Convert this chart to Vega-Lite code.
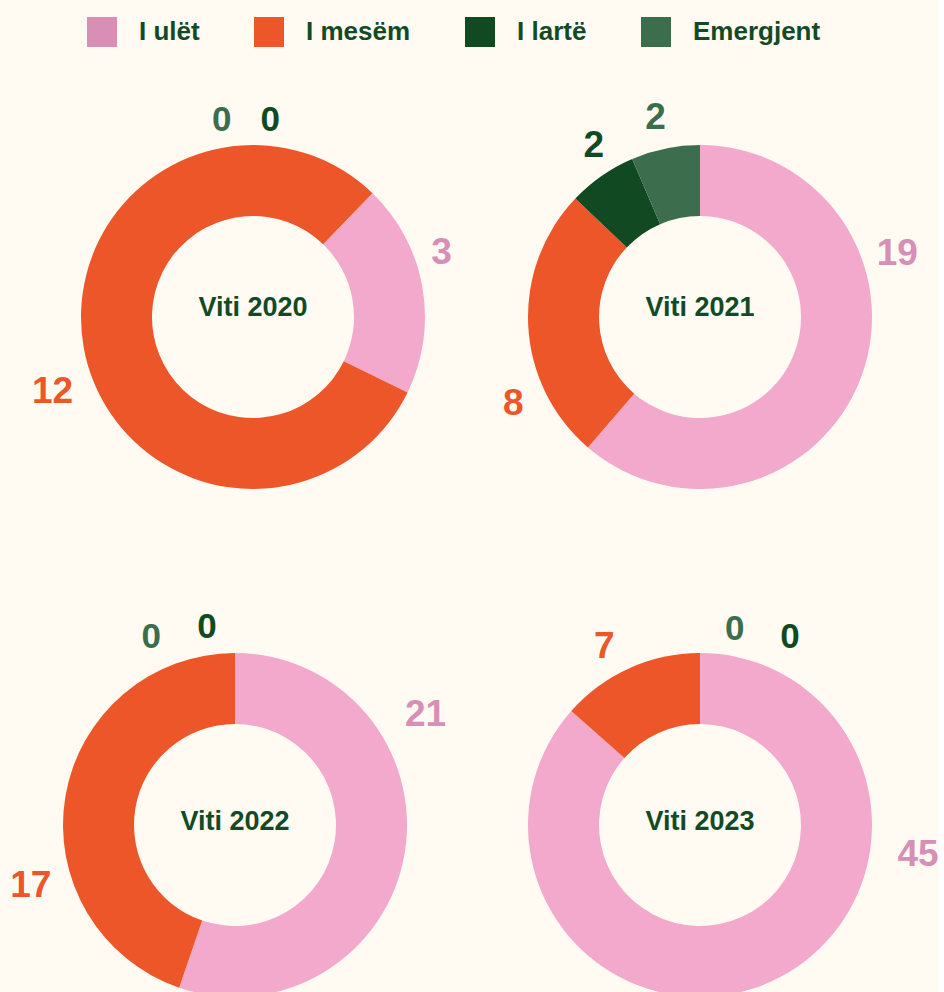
{
  "$schema": "https://vega.github.io/schema/vega-lite/v6.json",
  "background": "#FFFBF3",
  "padding": 0,
  "data": {"values": [
    {"panel": "Viti 2020", "cat": "I ulët", "value": 3},
    {"panel": "Viti 2020", "cat": "I mesëm", "value": 12},
    {"panel": "Viti 2020", "cat": "I lartë", "value": 0},
    {"panel": "Viti 2020", "cat": "Emergjent", "value": 0},
    {"panel": "Viti 2021", "cat": "I ulët", "value": 19},
    {"panel": "Viti 2021", "cat": "I mesëm", "value": 8},
    {"panel": "Viti 2021", "cat": "I lartë", "value": 2},
    {"panel": "Viti 2021", "cat": "Emergjent", "value": 2},
    {"panel": "Viti 2022", "cat": "I ulët", "value": 21},
    {"panel": "Viti 2022", "cat": "I mesëm", "value": 17},
    {"panel": "Viti 2022", "cat": "I lartë", "value": 0},
    {"panel": "Viti 2022", "cat": "Emergjent", "value": 0},
    {"panel": "Viti 2023", "cat": "I ulët", "value": 45},
    {"panel": "Viti 2023", "cat": "I mesëm", "value": 7},
    {"panel": "Viti 2023", "cat": "I lartë", "value": 0},
    {"panel": "Viti 2023", "cat": "Emergjent", "value": 0}
  ]},
  "columns": 2,
  "spacing": 0,
  "bounds": "flush",
  "resolve": {"scale": {"theta": "independent"}},
  "concat": [
    {
      "width": 506, "height": 634,
      "transform": [{"filter": "datum.panel === 'Viti 2020'"}],
      "resolve": {"scale": {"theta": "independent"}},
      "layer": [
        {"mark": {"type": "arc", "outerRadius": 172, "innerRadius": 101},
         "encoding": {
           "theta": {"field": "value", "type": "quantitative", "stack": true, "scale": {"range": [0.768, 7.051]}},
           "order": {"field": "cat", "type": "ordinal", "sort": "descending"},
           "fill": {"field": "cat", "type": "nominal", "sort": "descending", "scale": {"range": ["#F2A9CB", "#EC5629", "#114A22", "#3C6E4E"]}, "legend": null}}},
        {"mark": {"type": "text", "radius": 199, "fontSize": 37, "fontWeight": "bold"},
         "encoding": {
           "theta": {"field": "value", "type": "quantitative", "stack": true, "scale": {"range": [0.616, 6.899]}},
           "order": {"field": "cat", "type": "ordinal", "sort": "descending"},
           "color": {"field": "cat", "type": "nominal", "sort": "descending", "title": null},
           "text": {"condition": {"test": "datum.cat === 'I ulët'", "field": "value", "type": "quantitative"}, "value": ""}}},
        {"mark": {"type": "text", "radius": 214, "fontSize": 37, "fontWeight": "bold"},
         "encoding": {
           "theta": {"field": "value", "type": "quantitative", "stack": true, "scale": {"range": [0.585, 6.868]}},
           "order": {"field": "cat", "type": "ordinal", "sort": "descending"},
           "color": {"field": "cat", "type": "nominal", "sort": "descending", "title": null},
           "text": {"condition": {"test": "datum.cat === 'I mesëm'", "field": "value", "type": "quantitative"}, "value": ""}}},
        {"mark": {"type": "text", "radius": 198, "fontSize": 35, "fontWeight": "bold"},
         "encoding": {
           "theta": {"field": "value", "type": "quantitative", "stack": true, "scale": {"range": [0.087, 6.370]}},
           "order": {"field": "cat", "type": "ordinal", "sort": "descending"},
           "color": {"field": "cat", "type": "nominal", "sort": "descending", "title": null},
           "text": {"condition": {"test": "datum.cat === 'I lartë'", "field": "value", "type": "quantitative"}, "value": ""}}},
        {"mark": {"type": "text", "radius": 199, "fontSize": 35, "fontWeight": "bold"},
         "encoding": {
           "theta": {"field": "value", "type": "quantitative", "stack": true, "scale": {"range": [-0.157, 6.126]}},
           "order": {"field": "cat", "type": "ordinal", "sort": "descending"},
           "color": {"field": "cat", "type": "nominal", "sort": "descending", "title": null},
           "text": {"condition": {"test": "datum.cat === 'Emergjent'", "field": "value", "type": "quantitative"}, "value": ""}}},
        {"transform": [{"aggregate": [{"op": "sum", "field": "value", "as": "total"}], "groupby": ["panel"]}],
         "mark": {"type": "text", "fontSize": 27, "fontWeight": "bold", "color": "#134A26", "dy": -9},
         "encoding": {"text": {"field": "panel", "type": "nominal"}}}
      ]
    },
    {
      "width": 388, "height": 634,
      "transform": [{"filter": "datum.panel === 'Viti 2021'"}],
      "resolve": {"scale": {"theta": "independent"}},
      "layer": [
        {"mark": {"type": "arc", "outerRadius": 172, "innerRadius": 101},
         "encoding": {
           "theta": {"field": "value", "type": "quantitative", "stack": true},
           "order": {"field": "cat", "type": "ordinal", "sort": "descending"},
           "fill": {"field": "cat", "type": "nominal", "sort": "descending", "scale": {"range": ["#F2A9CB", "#EC5629", "#114A22", "#3C6E4E"]}, "legend": null}}},
        {"mark": {"type": "text", "radius": 207, "fontSize": 37, "fontWeight": "bold"},
         "encoding": {
           "theta": {"field": "value", "type": "quantitative", "stack": true, "scale": {"range": [-0.663, 5.620]}},
           "order": {"field": "cat", "type": "ordinal", "sort": "descending"},
           "color": {"field": "cat", "type": "nominal", "sort": "descending", "title": null},
           "text": {"condition": {"test": "datum.cat === 'I ulët'", "field": "value", "type": "quantitative"}, "value": ""}}},
        {"mark": {"type": "text", "radius": 206, "fontSize": 37, "fontWeight": "bold"},
         "encoding": {
           "theta": {"field": "value", "type": "quantitative", "stack": true, "scale": {"range": [-0.384, 5.899]}},
           "order": {"field": "cat", "type": "ordinal", "sort": "descending"},
           "color": {"field": "cat", "type": "nominal", "sort": "descending", "title": null},
           "text": {"condition": {"test": "datum.cat === 'I mesëm'", "field": "value", "type": "quantitative"}, "value": ""}}},
        {"mark": {"type": "text", "radius": 201, "fontSize": 37, "fontWeight": "bold"},
         "encoding": {
           "theta": {"field": "value", "type": "quantitative", "stack": true, "scale": {"range": [0.052, 6.335]}},
           "order": {"field": "cat", "type": "ordinal", "sort": "descending"},
           "color": {"field": "cat", "type": "nominal", "sort": "descending", "title": null},
           "text": {"condition": {"test": "datum.cat === 'I lartë'", "field": "value", "type": "quantitative"}, "value": ""}}},
        {"mark": {"type": "text", "radius": 204, "fontSize": 37, "fontWeight": "bold"},
         "encoding": {
           "theta": {"field": "value", "type": "quantitative", "stack": true, "scale": {"range": [-0.017, 6.266]}},
           "order": {"field": "cat", "type": "ordinal", "sort": "descending"},
           "color": {"field": "cat", "type": "nominal", "sort": "descending", "title": null},
           "text": {"condition": {"test": "datum.cat === 'Emergjent'", "field": "value", "type": "quantitative"}, "value": ""}}},
        {"transform": [{"aggregate": [{"op": "sum", "field": "value", "as": "total"}], "groupby": ["panel"]}],
         "mark": {"type": "text", "fontSize": 27, "fontWeight": "bold", "color": "#134A26", "dy": -9},
         "encoding": {"text": {"field": "panel", "type": "nominal"}}}
      ]
    },
    {
      "width": 470, "height": 382,
      "transform": [{"filter": "datum.panel === 'Viti 2022'"}],
      "resolve": {"scale": {"theta": "independent"}},
      "layer": [
        {"mark": {"type": "arc", "outerRadius": 172, "innerRadius": 101},
         "encoding": {
           "theta": {"field": "value", "type": "quantitative", "stack": true},
           "order": {"field": "cat", "type": "ordinal", "sort": "descending"},
           "fill": {"field": "cat", "type": "nominal", "sort": "descending", "scale": {"range": ["#F2A9CB", "#EC5629", "#114A22", "#3C6E4E"]}, "legend": null}}},
        {"mark": {"type": "text", "radius": 220, "fontSize": 37, "fontWeight": "bold"},
         "encoding": {
           "theta": {"field": "value", "type": "quantitative", "stack": true, "scale": {"range": [-0.689, 5.594]}},
           "order": {"field": "cat", "type": "ordinal", "sort": "descending"},
           "color": {"field": "cat", "type": "nominal", "sort": "descending", "title": null},
           "text": {"condition": {"test": "datum.cat === 'I ulët'", "field": "value", "type": "quantitative"}, "value": ""}}},
        {"mark": {"type": "text", "radius": 213, "fontSize": 37, "fontWeight": "bold"},
         "encoding": {
           "theta": {"field": "value", "type": "quantitative", "stack": true, "scale": {"range": [-0.454, 5.829]}},
           "order": {"field": "cat", "type": "ordinal", "sort": "descending"},
           "color": {"field": "cat", "type": "nominal", "sort": "descending", "title": null},
           "text": {"condition": {"test": "datum.cat === 'I mesëm'", "field": "value", "type": "quantitative"}, "value": ""}}},
        {"mark": {"type": "text", "radius": 200, "fontSize": 35, "fontWeight": "bold"},
         "encoding": {
           "theta": {"field": "value", "type": "quantitative", "stack": true, "scale": {"range": [-0.140, 6.143]}},
           "order": {"field": "cat", "type": "ordinal", "sort": "descending"},
           "color": {"field": "cat", "type": "nominal", "sort": "descending", "title": null},
           "text": {"condition": {"test": "datum.cat === 'I lartë'", "field": "value", "type": "quantitative"}, "value": ""}}},
        {"mark": {"type": "text", "radius": 206, "fontSize": 35, "fontWeight": "bold"},
         "encoding": {
           "theta": {"field": "value", "type": "quantitative", "stack": true, "scale": {"range": [-0.419, 5.864]}},
           "order": {"field": "cat", "type": "ordinal", "sort": "descending"},
           "color": {"field": "cat", "type": "nominal", "sort": "descending", "title": null},
           "text": {"condition": {"test": "datum.cat === 'Emergjent'", "field": "value", "type": "quantitative"}, "value": ""}}},
        {"transform": [{"aggregate": [{"op": "sum", "field": "value", "as": "total"}], "groupby": ["panel"]}],
         "mark": {"type": "text", "fontSize": 27, "fontWeight": "bold", "color": "#134A26", "dy": -3},
         "encoding": {"text": {"field": "panel", "type": "nominal"}}}
      ]
    },
    {
      "width": 388, "height": 382,
      "transform": [{"filter": "datum.panel === 'Viti 2023'"}],
      "resolve": {"scale": {"theta": "independent"}},
      "layer": [
        {"mark": {"type": "arc", "outerRadius": 172, "innerRadius": 101},
         "encoding": {
           "theta": {"field": "value", "type": "quantitative", "stack": true},
           "order": {"field": "cat", "type": "ordinal", "sort": "descending"},
           "fill": {"field": "cat", "type": "nominal", "sort": "descending", "scale": {"range": ["#F2A9CB", "#EC5629", "#114A22", "#3C6E4E"]}, "legend": null}}},
        {"mark": {"type": "text", "radius": 220, "fontSize": 37, "fontWeight": "bold"},
         "encoding": {
           "theta": {"field": "value", "type": "quantitative", "stack": true, "scale": {"range": [-1.012, 5.271]}},
           "order": {"field": "cat", "type": "ordinal", "sort": "descending"},
           "color": {"field": "cat", "type": "nominal", "sort": "descending", "title": null},
           "text": {"condition": {"test": "datum.cat === 'I ulët'", "field": "value", "type": "quantitative"}, "value": ""}}},
        {"mark": {"type": "text", "radius": 202, "fontSize": 37, "fontWeight": "bold"},
         "encoding": {
           "theta": {"field": "value", "type": "quantitative", "stack": true, "scale": {"range": [-0.070, 6.213]}},
           "order": {"field": "cat", "type": "ordinal", "sort": "descending"},
           "color": {"field": "cat", "type": "nominal", "sort": "descending", "title": null},
           "text": {"condition": {"test": "datum.cat === 'I mesëm'", "field": "value", "type": "quantitative"}, "value": ""}}},
        {"mark": {"type": "text", "radius": 208, "fontSize": 35, "fontWeight": "bold"},
         "encoding": {
           "theta": {"field": "value", "type": "quantitative", "stack": true, "scale": {"range": [0.447, 6.730]}},
           "order": {"field": "cat", "type": "ordinal", "sort": "descending"},
           "color": {"field": "cat", "type": "nominal", "sort": "descending", "title": null},
           "text": {"condition": {"test": "datum.cat === 'I lartë'", "field": "value", "type": "quantitative"}, "value": ""}}},
        {"mark": {"type": "text", "radius": 199, "fontSize": 35, "fontWeight": "bold"},
         "encoding": {
           "theta": {"field": "value", "type": "quantitative", "stack": true, "scale": {"range": [0.175, 6.458]}},
           "order": {"field": "cat", "type": "ordinal", "sort": "descending"},
           "color": {"field": "cat", "type": "nominal", "sort": "descending", "title": null},
           "text": {"condition": {"test": "datum.cat === 'Emergjent'", "field": "value", "type": "quantitative"}, "value": ""}}},
        {"transform": [{"aggregate": [{"op": "sum", "field": "value", "as": "total"}], "groupby": ["panel"]}],
         "mark": {"type": "text", "fontSize": 27, "fontWeight": "bold", "color": "#134A26", "dy": -3},
         "encoding": {"text": {"field": "panel", "type": "nominal"}}}
      ]
    }
  ],
  "config": {
    "font": "Liberation Sans",
    "view": {"stroke": null},
    "range": {"category": ["#D78FB6", "#EC5629", "#114A22", "#3C6E4E"]},
    "text": {"align": "center", "baseline": "middle"},
    "legend": {
      "orient": "none",
      "legendX": 87,
      "legendY": 17,
      "direction": "horizontal",
      "padding": 0,
      "symbolType": "square",
      "symbolSize": 900,
      "symbolStrokeWidth": 0,
      "symbolOpacity": 1,
      "labelFont": "Liberation Sans",
      "labelFontSize": 26,
      "labelFontWeight": "bold",
      "labelColor": "#134A26",
      "labelOffset": 22,
      "columnPadding": 54
    }
  }
}
